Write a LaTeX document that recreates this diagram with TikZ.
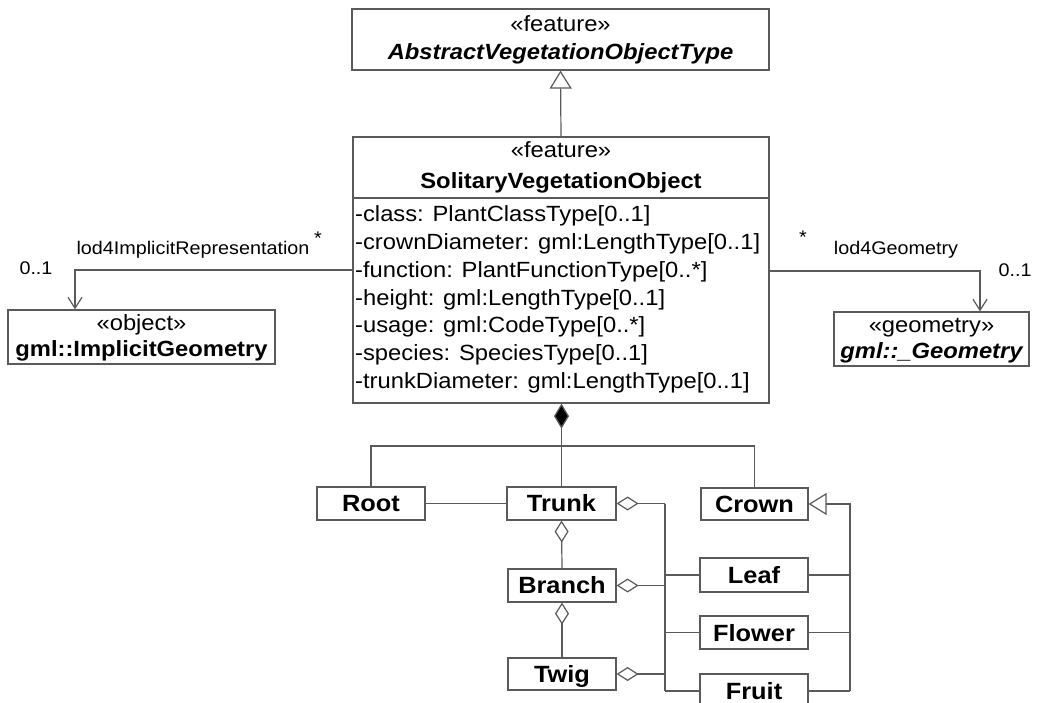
\documentclass[tikz,border=0pt]{standalone}
\usepackage{fontspec}
\setmainfont{Liberation Sans}[FakeStretch=1.08]
\usetikzlibrary{arrows.meta}
\newcommand\fbig{\fontsize{22}{26}\selectfont}
\newcommand\fcls{\fontsize{23.5}{27}\selectfont\bfseries}
\newcommand\fsmall{\fontsize{18.3}{21}\selectfont}
\definecolor{ln}{HTML}{5A5A5A}
\tikzset{
  box/.style={draw=ln, line width=1.2pt, inner sep=0pt, fill=white},
  conn/.style={draw=ln, line width=1.2pt},
  txt/.style={inner sep=0pt, font=\fbig},
  cls/.style={inner sep=0pt, font=\fcls, anchor=base},
  lbl/.style={inner sep=0pt, font=\fsmall},
  gen/.style={conn, -{Triangle[open, length=18pt, width=22pt, fill=white]}},
  nav/.style={conn, -{Straight Barb[length=11pt, width=14pt]}},
  compo/.style={conn, -{Diamond[length=25pt, width=15pt, fill=black]}},
  aggr/.style={conn, -{Diamond[open, length=22pt, width=14pt, fill=white]}},
}
\begin{document}
\begin{tikzpicture}[x=1pt, y=-1pt]
\useasboundingbox (0,0) rectangle (1037,703);
% class boxes
\node[box, minimum width=417pt, minimum height=61pt] (avo) at (560.5,39.5) {};
\node[txt, anchor=base] (avoS) at (560.5,32) {«feature»};
\node[txt, anchor=base, font=\fbig\bfseries\itshape] (avoN) at (560.5,60) {AbstractVegetationObjectType};

\node[box, minimum width=416pt, minimum height=266pt] (svo) at (561,270) {};
\node[txt, anchor=base] (svoS) at (561,158) {«feature»};
\node[txt, anchor=base, font=\fbig\bfseries] (svoN) at (561,189) {SolitaryVegetationObject};
\coordinate (divL) at (353,198);
\coordinate (divR) at (769,198);
\draw[conn] (divL) -- (divR);
\node[txt, anchor=base west] (a1) at (355,221.7) {-class: PlantClassType[0..1]};
\node[txt, anchor=base west] (a2) at (355,249.5) {-crownDiameter: gml:LengthType[0..1]};
\node[txt, anchor=base west] (a3) at (355,277.3) {-function: PlantFunctionType[0..*]};
\node[txt, anchor=base west] (a4) at (355,305.1) {-height: gml:LengthType[0..1]};
\node[txt, anchor=base west] (a5) at (355,332.9) {-usage: gml:CodeType[0..*]};
\node[txt, anchor=base west] (a6) at (355,360.7) {-species: SpeciesType[0..1]};
\node[txt, anchor=base west] (a7) at (355,388.5) {-trunkDiameter: gml:LengthType[0..1]};

\node[box, minimum width=267pt, minimum height=54pt] (impl) at (141.5,337) {};
\node[txt, anchor=base] (implS) at (141.5,331) {«object»};
\node[txt, anchor=base, font=\fbig\bfseries] (implN) at (141.5,357) {gml::ImplicitGeometry};

\node[box, minimum width=195pt, minimum height=54pt] (geom) at (931.5,339) {};
\node[txt, anchor=base] (geomS) at (931.5,333) {«geometry»};
\node[txt, anchor=base, font=\fbig\bfseries\itshape] (geomN) at (931.5,359) {gml::\_Geometry};

\node[box, minimum width=108pt, minimum height=33pt] (root) at (371,503.5) {};
\node[cls] (rootT) at (371,511.5) {Root};
\node[box, minimum width=109pt, minimum height=33pt] (trunk) at (561.5,503.5) {};
\node[cls] (trunkT) at (561.5,511.5) {Trunk};
\node[box, minimum width=107pt, minimum height=32pt] (crown) at (754.5,504) {};
\node[cls] (crownT) at (754.5,512) {Crown};
\node[box, minimum width=108pt, minimum height=33pt] (branch) at (562,585.5) {};
\node[cls] (branchT) at (562,593.5) {Branch};
\node[box, minimum width=108pt, minimum height=32pt] (twig) at (562,674) {};
\node[cls] (twigT) at (562,682) {Twig};
\node[box, minimum width=108pt, minimum height=34pt] (leaf) at (754,575) {};
\node[cls] (leafT) at (754,583.5) {Leaf};
\node[box, minimum width=108pt, minimum height=33pt] (flower) at (754,632.5) {};
\node[cls] (flowerT) at (754,641) {Flower};
\node[box, minimum width=108pt, minimum height=34pt] (fruit) at (754,691) {};
\node[cls] (fruitT) at (754,699.5) {Fruit};

% generalization SVO -> abstract
\draw[gen] (svo.north) -- (avo.south);

% associations
\coordinate (lbend) at (75,270);
\coordinate (rbend) at (980,271);
\draw[nav] (svo.west |- lbend) -- (lbend) -- (lbend |- impl.north);
\draw[nav] (svo.east |- rbend) -- (rbend) -- (rbend |- geom.north);
\node[lbl, anchor=base] (l1) at (193,255) {lod4ImplicitRepresentation};
\node[lbl, anchor=base] (l1s) at (318,245) {*};
\node[lbl, anchor=base] (l1m) at (36,275) {0..1};
\node[lbl, anchor=base] (l2s) at (803,244) {*};
\node[lbl, anchor=base] (l2) at (896,255) {lod4Geometry};
\node[lbl, anchor=base] (l2m) at (1015,277) {0..1};

% composition
\coordinate (jc) at (561.5,446);
\draw[compo] (trunk.north) -- (trunk.north |- svo.south);
\draw[conn] (root.north) |- (jc) -| (crown.north);
\draw[conn] (root.east) -- (trunk.west);

% aggregations
\draw[aggr] (branch.north) -- (trunk.south);
\draw[aggr] (twig.north) -- (branch.south);
\coordinate (bT) at (665,503.5);
\coordinate (bB) at (665,585.5);
\coordinate (bW) at (665,674);
\coordinate (bEnd) at (665,691);
\draw[aggr] (bT) -- (trunk.east);
\draw[aggr] (bB) -- (branch.east);
\draw[aggr] (bW) -- (twig.east);
\draw[conn] (bT) -- (bEnd);
\draw[conn] (bT |- leaf.west) -- (leaf.west);
\draw[conn] (bT |- flower.west) -- (flower.west);
\draw[conn] (bEnd) -- (fruit.west);

% crown generalization
\coordinate (gT) at (850,504);
\coordinate (gEnd) at (850,691);
\draw[gen] (gEnd) -- (gT) -- (crown.east);
\draw[conn] (leaf.east) -- (leaf.east -| gT);
\draw[conn] (flower.east) -- (flower.east -| gT);
\draw[conn] (fruit.east) -- (gEnd);
\end{tikzpicture}
\end{document}
